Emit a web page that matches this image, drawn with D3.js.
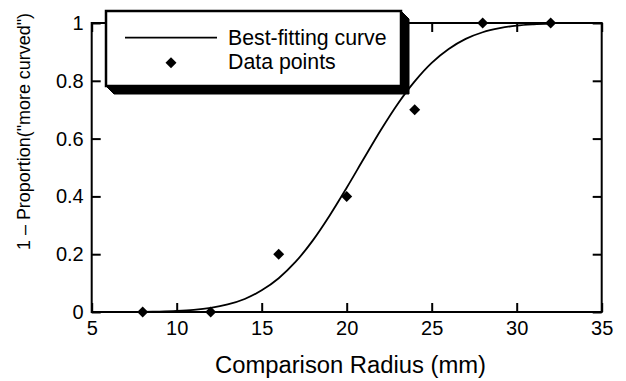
<!DOCTYPE html>
<html>
<head>
<meta charset="utf-8">
<script src="https://cdn.jsdelivr.net/npm/d3@7"></script>
<style>
  html, body { margin: 0; padding: 0; background: #fff; }
  svg { display: block; font-family: "Liberation Sans", Arial, sans-serif; }
</style>
</head>
<body>
<svg id="chart" width="626" height="381"></svg>
<script>
// ---- data ----
const radius = [8, 12, 16, 20, 24, 28, 32];
const proportion = [0, 0, 0.2, 0.4, 0.7, 1, 1];

// best-fitting curve
const curveX = [8, 9, 10, 11, 12, 13, 14, 15, 16, 17, 18, 19, 20, 21, 22, 23, 24, 25, 26, 27, 28, 29, 30, 31, 32];
const curveY = [0.0007, 0.0015, 0.0034, 0.007, 0.014, 0.026, 0.045, 0.075, 0.117, 0.174, 0.247, 0.334, 0.43, 0.53, 0.629, 0.72, 0.798, 0.862, 0.91, 0.945, 0.968, 0.982, 0.991, 0.9955, 0.998];

const xTicks = [5, 10, 15, 20, 25, 30, 35];
const yTicks = [0, 0.2, 0.4, 0.6, 0.8, 1];
const yTickLabels = ["0", "0.2", "0.4", "0.6", "0.8", "1"];

const xTitle = "Comparison Radius (mm)";
const yTitle = "1 \u2013 Proportion(\"more curved\")";
const legendLabels = ["Best-fitting curve", "Data points"];

// ---- layout ----
const svg = d3.select("#chart");
const x = d3.scaleLinear().domain([5, 35]).range([91.7, 601.7]);
const y = d3.scaleLinear().domain([0, 1]).range([312, 23]);
const T = 9;

// axes
const gx = svg.append("g").attr("transform", `translate(0,${y(0)})`)
  .call(d3.axisBottom(x).tickValues(xTicks).tickSize(-T).tickSizeOuter(0).tickPadding(9).tickFormat(d3.format("d")));
const gxt = svg.append("g").attr("transform", `translate(0,${y(1)})`)
  .call(d3.axisTop(x).tickValues(xTicks).tickSize(-T).tickSizeOuter(0).tickFormat(""));
const gy = svg.append("g").attr("transform", `translate(${x(5)},0)`)
  .call(d3.axisLeft(y).tickValues(yTicks).tickSize(-T).tickSizeOuter(0).tickPadding(8)
    .tickFormat((d, i) => yTickLabels[i]));
const gyr = svg.append("g").attr("transform", `translate(${x(35)},0)`)
  .call(d3.axisRight(y).tickValues(yTicks).tickSize(-T).tickSizeOuter(0).tickFormat(""));

[gx, gxt, gy, gyr].forEach(g => {
  g.select(".domain").remove();
  g.selectAll(".tick line").attr("stroke", "#000").attr("stroke-width", 2);
  g.selectAll(".tick text").attr("fill", "#000").style("font-size", "20px")
    .style("font-family", "'Liberation Sans', Arial, sans-serif");
});

// frame
svg.append("rect")
  .attr("x", x(5)).attr("y", y(1))
  .attr("width", x(35) - x(5)).attr("height", y(0) - y(1))
  .attr("fill", "none").attr("stroke", "#000").attr("stroke-width", 2);

// curve
const curvePts = curveX.map((d, i) => [d, curveY[i]]);
svg.append("path")
  .datum(curvePts)
  .attr("fill", "none").attr("stroke", "#000").attr("stroke-width", 1.8)
  .attr("d", d3.line().x(d => x(d[0])).y(d => y(d[1])).curve(d3.curveCatmullRom));

// data points
const diamond = d3.symbol(d3.symbolSquare, 60);
svg.append("g").selectAll("path")
  .data(radius.map((d, i) => [d, proportion[i]]))
  .join("path")
  .attr("d", diamond)
  .attr("transform", d => `translate(${x(d[0])},${y(d[1])}) rotate(45)`)
  .attr("fill", "#000");

// legend
const lx0 = 106, ly0 = 11, lx1 = 401, ly1 = 86, sd = 8;
const leg = svg.append("g");
leg.append("polygon")
  .attr("points", [[lx0, ly1], [lx0 + sd, ly1 + sd], [lx1 + sd, ly1 + sd], [lx1 + sd, ly0 + sd], [lx1, ly0], [lx1, ly1]].map(p => p.join(",")).join(" "))
  .attr("fill", "#000").attr("stroke", "#000").attr("stroke-width", 1);
leg.append("rect")
  .attr("x", lx0).attr("y", ly0).attr("width", lx1 - lx0).attr("height", ly1 - ly0)
  .attr("fill", "#fff").attr("stroke", "#000").attr("stroke-width", 2.5);
leg.append("line")
  .attr("x1", 125).attr("x2", 217).attr("y1", 37.7).attr("y2", 37.7)
  .attr("stroke", "#000").attr("stroke-width", 1.8);
leg.append("path")
  .attr("d", diamond)
  .attr("transform", "translate(171,62.7) rotate(45)")
  .attr("fill", "#000");
leg.selectAll("text.lg")
  .data(legendLabels)
  .join("text")
  .attr("class", "lg")
  .attr("x", 228)
  .attr("y", (d, i) => [45, 69.3][i])
  .style("font-size", "21.3px")
  .attr("fill", "#000")
  .text(d => d);

// titles
svg.append("text")
  .attr("x", 350.5).attr("y", 373)
  .attr("text-anchor", "middle")
  .style("font-size", "23.5px")
  .attr("textLength", 271).attr("lengthAdjust", "spacingAndGlyphs")
  .attr("fill", "#000")
  .text(xTitle);

svg.append("text")
  .attr("transform", "translate(30,131.5) rotate(-90)")
  .attr("text-anchor", "middle")
  .style("font-size", "19px")
  .attr("textLength", 237).attr("lengthAdjust", "spacingAndGlyphs")
  .attr("fill", "#000")
  .text(yTitle);
</script>
</body>
</html>
